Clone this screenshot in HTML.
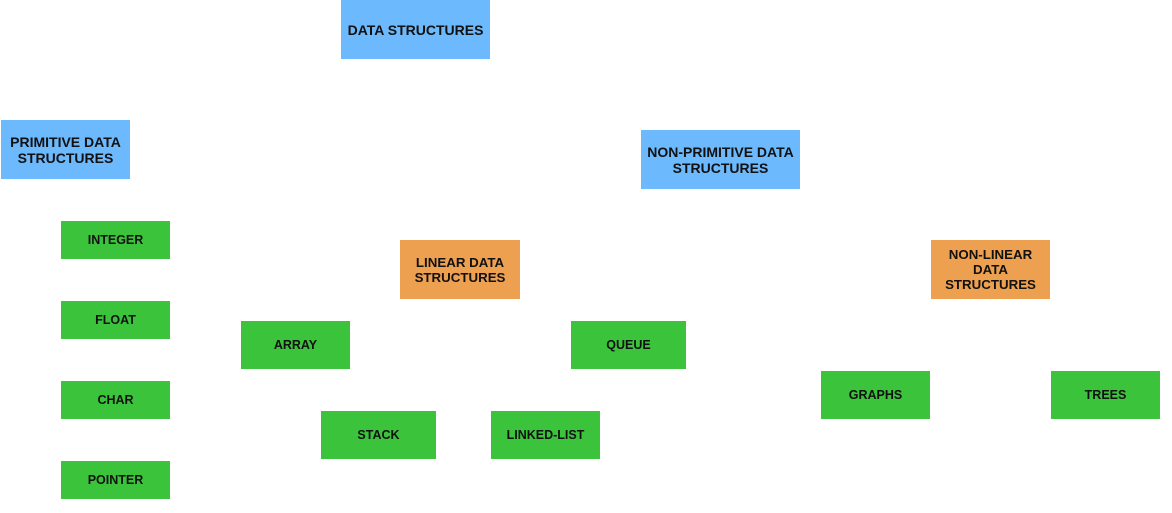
<!DOCTYPE html>
<html><head><style>
body{margin:0;width:1172px;height:513px;background:#fff;position:relative;overflow:hidden;font-family:"Liberation Sans",Arial,sans-serif}
.b{position:absolute;display:flex;align-items:center;justify-content:center;text-align:center;font-weight:bold;font-size:14px;line-height:16px;color:#111}
.bl{background:#6cb9fd}.g{background:#3cc33c;font-size:12.5px}.o{background:#eda050;font-size:13.3px;line-height:15px}
</style></head><body>
<div class="b bl" style="left:341px;top:0px;width:149px;height:59px">DATA STRUCTURES</div>
<div class="b bl" style="left:1px;top:120px;width:129px;height:59px">PRIMITIVE DATA<br>STRUCTURES</div>
<div class="b bl" style="left:641px;top:130px;width:159px;height:59px">NON-PRIMITIVE DATA<br>STRUCTURES</div>
<div class="b g" style="left:61px;top:221px;width:109px;height:38px">INTEGER</div>
<div class="b g" style="left:61px;top:301px;width:109px;height:38px">FLOAT</div>
<div class="b g" style="left:61px;top:381px;width:109px;height:38px">CHAR</div>
<div class="b g" style="left:61px;top:461px;width:109px;height:38px">POINTER</div>
<div class="b o" style="left:400px;top:240px;width:120px;height:59px">LINEAR DATA<br>STRUCTURES</div>
<div class="b g" style="left:241px;top:321px;width:109px;height:48px">ARRAY</div>
<div class="b g" style="left:571px;top:321px;width:115px;height:48px">QUEUE</div>
<div class="b g" style="left:321px;top:411px;width:115px;height:48px">STACK</div>
<div class="b g" style="left:491px;top:411px;width:109px;height:48px">LINKED-LIST</div>
<div class="b o" style="left:931px;top:240px;width:119px;height:59px">NON-LINEAR<br>DATA<br>STRUCTURES</div>
<div class="b g" style="left:821px;top:371px;width:109px;height:48px">GRAPHS</div>
<div class="b g" style="left:1051px;top:371px;width:109px;height:48px">TREES</div>
</body></html>
